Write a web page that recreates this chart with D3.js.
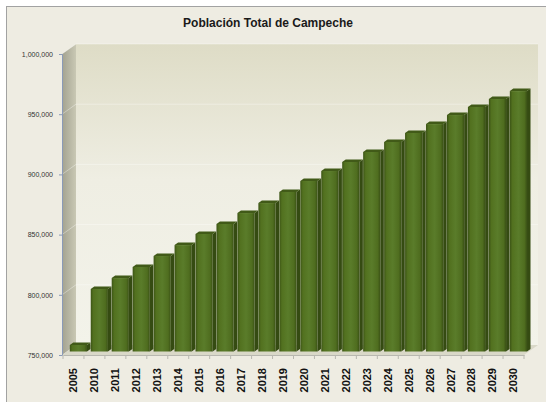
<!DOCTYPE html>
<html>
<head>
<meta charset="utf-8">
<script src="https://cdn.jsdelivr.net/npm/d3@7"></script>
<style>
  body { margin: 0; background: #fff; }
  svg { display: block; font-family: "Liberation Sans", Arial, sans-serif; }
</style>
</head>
<body>
<svg id="chart" width="546" height="402"></svg>
<script>
const years = ["2005", "2010", "2011", "2012", "2013", "2014", "2015", "2016", "2017", "2018", "2019",
  "2020", "2021", "2022", "2023", "2024", "2025", "2026", "2027", "2028", "2029", "2030"];
const population = [755400, 801900, 811000, 820200, 829300, 838400, 847600, 855900, 865000, 873300, 882500,
  891600, 899900, 907400, 915700, 924000, 931500, 938900, 946400, 953100, 959700, 966300];
const yTicks = [750000, 800000, 850000, 900000, 950000, 1000000];
const title = "Población Total de Campeche";

const svg = d3.select("#chart");
const W = 546, H = 402;

// depth of the 3d box
const depthX = 14, depthY = -10;
const barD0 = 0.35, barD1 = 0.6;

const x = d3.scaleBand().domain(years).range([63, 524]).paddingInner(0.18).paddingOuter(0.09);
const y = d3.scaleLinear().domain([750000, 1000000]).range([355, 54]);

const defs = svg.append("defs");

const wallGrad = defs.append("linearGradient").attr("id", "wall")
  .attr("x1", 0).attr("y1", 0).attr("x2", 0).attr("y2", 1);
wallGrad.append("stop").attr("offset", 0).attr("stop-color", "#dedcc6");
wallGrad.append("stop").attr("offset", 0.45).attr("stop-color", "#efeee3");
wallGrad.append("stop").attr("offset", 1).attr("stop-color", "#f3f3ea");

const sideGrad = defs.append("linearGradient").attr("id", "side")
  .attr("x1", 0).attr("y1", 0).attr("x2", 1).attr("y2", 0);
sideGrad.append("stop").attr("offset", 0).attr("stop-color", "#a3a290");
sideGrad.append("stop").attr("offset", 1).attr("stop-color", "#c9c8b4");

const barGrad = defs.append("linearGradient").attr("id", "bar")
  .attr("x1", 0).attr("y1", 0).attr("x2", 1).attr("y2", 0);
barGrad.append("stop").attr("offset", 0).attr("stop-color", "#3c5416");
barGrad.append("stop").attr("offset", 0.15).attr("stop-color", "#52711f");
barGrad.append("stop").attr("offset", 0.5).attr("stop-color", "#5a7c2a");
barGrad.append("stop").attr("offset", 0.85).attr("stop-color", "#4f6d1f");
barGrad.append("stop").attr("offset", 1).attr("stop-color", "#3a5115");

// chart area background and frame
svg.append("rect")
  .attr("x", 6.5).attr("y", 6.5)
  .attr("width", W).attr("height", H)
  .attr("fill", "#eeece2")
  .attr("stroke", "#a2a2a2");

svg.append("text")
  .attr("x", 268).attr("y", 27)
  .attr("text-anchor", "middle")
  .style("font-size", "12px")
  .style("font-weight", "bold")
  .attr("fill", "#1a1a1a")
  .text(title);

const x0 = 62, x1 = 524;
const yTop = y(1000000), yBot = y(750000);

// back wall
svg.append("rect")
  .attr("x", x0 + depthX).attr("y", yTop + depthY)
  .attr("width", x1 - x0).attr("height", yBot - yTop)
  .attr("fill", "url(#wall)");

// side wall
svg.append("path")
  .attr("d", `M${x0},${yTop}L${x0 + depthX},${yTop + depthY}L${x0 + depthX},${yBot + depthY}L${x0},${yBot}Z`)
  .attr("fill", "url(#side)");

// floor
svg.append("path")
  .attr("d", `M${x0},${yBot}L${x0 + depthX},${yBot + depthY}L${x1 + depthX},${yBot + depthY}L${x1},${yBot}Z`)
  .attr("fill", "#d9d8c8");

// gridlines on side and back wall
yTicks.slice(1).forEach(t => {
  svg.append("path")
    .attr("d", `M${x0},${y(t)}L${x0 + depthX},${y(t) + depthY}L${x1 + depthX},${y(t) + depthY}`)
    .attr("fill", "none")
    .attr("stroke", "#ffffff")
    .attr("stroke-opacity", 0.35);
});

// bars
const bw = x.bandwidth();
const bars = svg.append("g");
years.forEach((yr, i) => {
  const v = population[i];
  const fx = x(yr) + depthX * barD0;
  const top = y(v) + depthY * barD0;
  const bot = yBot + depthY * barD0;
  const ddx = depthX * (barD1 - barD0), ddy = depthY * (barD1 - barD0);

  bars.append("path")
    .attr("d", `M${fx + bw},${top}L${fx + bw + ddx},${top + ddy}L${fx + bw + ddx},${bot + ddy}L${fx + bw},${bot}Z`)
    .attr("fill", "#354b12");
  bars.append("path")
    .attr("d", `M${fx},${top}L${fx + ddx},${top + ddy}L${fx + bw + ddx},${top + ddy}L${fx + bw},${top}Z`)
    .attr("fill", "#415a18");
  bars.append("rect")
    .attr("x", fx).attr("y", top)
    .attr("width", bw).attr("height", bot - top)
    .attr("fill", "url(#bar)");
});

// value axis
const yAxis = svg.append("g")
  .attr("transform", `translate(${x0},0)`)
  .call(d3.axisLeft(y).tickValues(yTicks).tickFormat(d3.format(",")).tickSize(3).tickPadding(6));
yAxis.select(".domain").attr("stroke", "#8a9ab8");
yAxis.selectAll(".tick line").attr("stroke", "#8a9ab8");
yAxis.selectAll("text")
  .style("font-size", "7px")
  .attr("fill", "#333");

// category axis
const xAxis = svg.append("g")
  .attr("transform", `translate(0,${yBot})`)
  .call(d3.axisBottom(x).tickSize(0).tickPadding(0));
xAxis.select(".domain").attr("stroke", "#b8b8b0");
xAxis.selectAll(".tick text")
  .attr("transform", "rotate(-90)")
  .attr("x", -13).attr("y", 0).attr("dy", "0.35em")
  .attr("text-anchor", "end")
  .style("font-size", "11px")
  .style("font-weight", "bold")
  .attr("fill", "#111");

const step = x.step();
const bounds = d3.range(years.length + 1).map(k => 63 + k * step);
svg.append("g").selectAll("line")
  .data(bounds)
  .join("line")
  .attr("x1", d => d).attr("x2", d => d)
  .attr("y1", yBot).attr("y2", yBot + 4)
  .attr("stroke", "#b8b8b0");
</script>
</body>
</html>
